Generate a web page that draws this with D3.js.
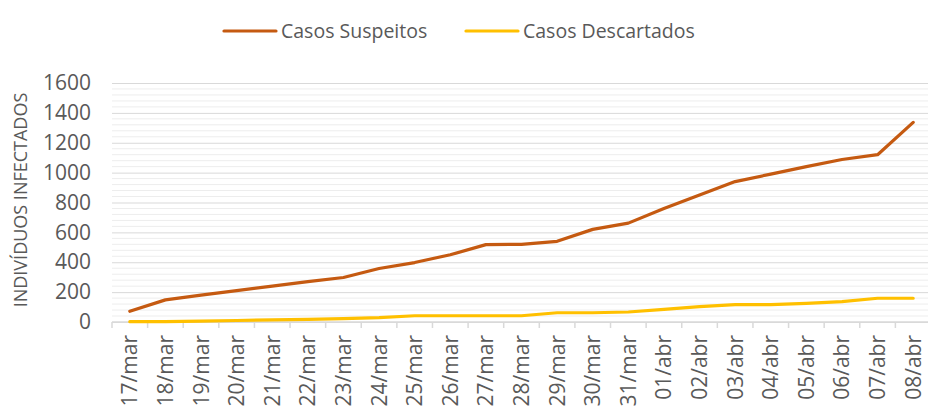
<!DOCTYPE html>
<html>
<head>
<meta charset="utf-8">
<script src="https://cdn.jsdelivr.net/npm/d3@7"></script>
<style>
    body { margin: 0; background: #fff; }
    svg { display: block; font-family: 'Open Sans', sans-serif; }
</style>
</head>
<body>
<svg id="chart" width="928" height="408"></svg>
<script>

const dias = ['17/mar','18/mar','19/mar','20/mar','21/mar','22/mar','23/mar','24/mar','25/mar','26/mar','27/mar','28/mar',
              '29/mar','30/mar','31/mar','01/abr','02/abr','03/abr','04/abr','05/abr','06/abr','07/abr','08/abr']
const suspeitos = [72, 148, 180, 210, 240, 270, 298, 358, 398, 450, 518, 520, 540, 620, 662, 760, 850, 940, 990, 1040, 1088, 1120, 1336]
const descartados = [2, 2, 6, 10, 14, 18, 22, 29, 42, 42, 42, 42, 62, 62, 67, 85, 103, 116, 116, 125, 136, 159, 159]
const yTicks = [0, 200, 400, 600, 800, 1000, 1200, 1400, 1600]

const series = [
    { name: 'Casos Suspeitos', values: suspeitos, color: '#c55a11' },
    { name: 'Casos Descartados', values: descartados, color: '#ffc000' }
]

const svg = d3.select('#chart')
const mLeft = 112, mRight = 931, mTop = 83, mBottom = 322
const textColor = '#595959'

const x = d3.scaleBand().domain(dias).range([ mLeft, mRight ]).padding(0)
const y = d3.scaleLinear().domain([ 0, 1600 ]).range([ mBottom, mTop ])

// minor gridlines
svg.append('g').selectAll('line').data(d3.range(40, 1600, 40).filter(v => v % 200 !== 0))
    .join('line')
    .attr('x1', mLeft).attr('x2', mRight)
    .attr('y1', d => y(d)).attr('y2', d => y(d))
    .attr('stroke', '#ededed').attr('stroke-width', 1)

// major gridlines + labels
const yaxis = d3.axisLeft(y).tickValues(yTicks).tickFormat(d3.format('d'))
    .tickSize(-(mRight - mLeft)).tickPadding(21)
const yg = svg.append('g').attr('transform', `translate(${mLeft},0)`).call(yaxis)
yg.select('.domain').remove()
yg.selectAll('.tick line').attr('stroke', '#d9d9d9')
yg.selectAll('.tick text').attr('fill', textColor).attr('font-size', 21)
    .attr('font-family', 'Open Sans, sans-serif')

// x axis with ticks on category boundaries
svg.append('line').attr('x1', mLeft).attr('x2', mRight).attr('y1', mBottom).attr('y2', mBottom)
    .attr('stroke', '#d9d9d9').attr('stroke-width', 1.5)
svg.append('g').selectAll('line').data(dias.concat(['__end']))
    .join('line')
    .attr('x1', (d, i) => mLeft + i * x.bandwidth()).attr('x2', (d, i) => mLeft + i * x.bandwidth())
    .attr('y1', mBottom).attr('y2', mBottom + 6)
    .attr('stroke', '#d9d9d9').attr('stroke-width', 1.5)

svg.append('g').selectAll('text').data(dias)
    .join('text')
    .attr('transform', d => `translate(${x(d) + x.bandwidth() / 2 + 7.5},${mBottom + 13}) rotate(-90)`)
    .attr('text-anchor', 'end')
    .attr('fill', textColor).attr('font-size', 21)
    .text(d => d)

// axis title
svg.append('text')
    .attr('transform', 'translate(27,200) rotate(-90)')
    .attr('text-anchor', 'middle')
    .attr('fill', textColor).attr('font-size', 18)
    .text('INDIVÍDUOS INFECTADOS')

// lines
const line = d3.line().x((d, i) => x(dias[i]) + x.bandwidth() / 2).y(d => y(d))
svg.append('g').selectAll('path').data(series.slice().reverse())
    .join('path')
    .attr('d', d => line(d.values))
    .attr('fill', 'none')
    .attr('stroke', d => d.color)
    .attr('stroke-width', 3.2)
    .attr('stroke-linejoin', 'round')
    .attr('stroke-linecap', 'round')

// legend
const legendPos = [ 224, 466 ]
const lg = svg.append('g').selectAll('g').data(series).join('g')
    .attr('transform', (d, i) => `translate(${legendPos[i]},31)`)
lg.append('line').attr('x1', 0).attr('x2', 52).attr('y1', 0).attr('y2', 0)
    .attr('stroke', d => d.color).attr('stroke-width', 3.2).attr('stroke-linecap', 'round')
lg.append('text').attr('x', 57).attr('y', 0).attr('dy', '0.35em')
    .attr('fill', textColor).attr('font-size', 19.5)
    .text(d => d.name)

</script>
</body>
</html>
